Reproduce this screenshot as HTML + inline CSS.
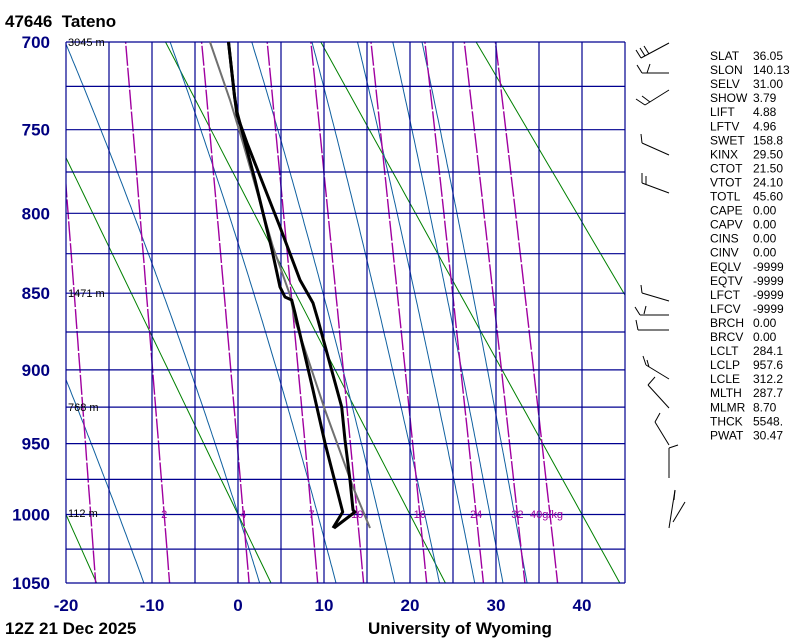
<!DOCTYPE html>
<html><head><meta charset="utf-8">
<style>
html,body{margin:0;padding:0;background:#fff;}
body{width:800px;height:640px;overflow:hidden;position:relative;font-family:"Liberation Sans",sans-serif;}
svg{position:absolute;left:0;top:0;}
</style></head>
<body>
<svg id="s" width="800" height="640" xmlns="http://www.w3.org/2000/svg"></svg>
<script>
(function(){
var K=0.286;
var s541=541/(Math.pow(1050,K)-Math.pow(700,K));
function Y(p){return 42+s541*(Math.pow(p,K)-Math.pow(700,K));}
function X(T){return 238+8.6*T;}
var L=66,R=625,T0=42,B=583;
var out=[];
out.push('<defs><clipPath id="c"><rect x="'+L+'" y="'+T0+'" width="'+(R-L)+'" height="'+(B-T0)+'"/></clipPath></defs>');
out.push('<rect width="800" height="640" fill="#fff"/>');
var g=[];
[253.15,273.15,293.15,313.15,333.15,353.15].forEach(function(th){
  var pts=[];
  for(var p=690;p<=1060;p+=10){var t=th*Math.pow(p/1000,K)-273.15;pts.push(X(t).toFixed(1)+','+Y(p).toFixed(1));}
  g.push('<polyline points="'+pts.join(' ')+'" fill="none" stroke="#008000" stroke-width="1"/>');
});
function dTdp(p,T){var es=6.112*Math.exp(17.67*(T-273.15)/(T-29.65));var rs=0.622*es/(p-es);var Lv=2.501e6,Rd=287.04,cp=1005.7;
 return (Rd*T+Lv*rs)/(p*(cp+Lv*Lv*rs*0.622/(Rd*T*T)));}
function moist(p0,t0){var T=t0+273.15,p,up=[],dn=[];
 var Tt=T;for(p=p0;p>=690;p-=2){up.push([p,Tt]);var k1=dTdp(p,Tt),k2=dTdp(p-1,Tt-k1);Tt-=2*k2;}
 Tt=T;for(p=p0;p<=1060;p+=2){dn.push([p,Tt]);var k1=dTdp(p,Tt),k2=dTdp(p+1,Tt+k1);Tt+=2*k2;}
 var all=up.reverse().concat(dn.slice(1));
 return all.map(function(a){return X(a[1]-273.15).toFixed(1)+','+Y(a[0]).toFixed(1);}).join(' ');}
[-20.1,-7.9,1.6,8.6,13.9,18.0,21.4].forEach(function(t){
  g.push('<polyline points="'+moist(700,t)+'" fill="none" stroke="#1060a0" stroke-width="1"/>');});
g.push('<polyline points="'+moist(1000,-13.9)+'" fill="none" stroke="#1060a0" stroke-width="1"/>');
function td(w,p){var e=w*p/(622+w);var a=Math.log(e/6.112);return 243.5*a/(17.67-a);}
var ws=[1,2,4,7,10,16,24,32,40];
ws.forEach(function(w){var pts=[];for(var p=690;p<=1060;p+=10){pts.push(X(td(w,p)).toFixed(1)+','+Y(p).toFixed(1));}
  g.push('<polyline points="'+pts.join(' ')+'" fill="none" stroke="#a000a0" stroke-width="1.4" stroke-dasharray="20 2"/>');});
out.push('<g clip-path="url(#c)">'+g.join('')+'</g>');
var gr=[];
for(var p=700;p<=1050;p+=25){var y=Y(p).toFixed(1);gr.push('<line x1="'+L+'" y1="'+y+'" x2="'+R+'" y2="'+y+'" stroke="#000090" stroke-width="1.2"/>');}
for(var t=-20;t<=45;t+=5){var x=X(t).toFixed(1);gr.push('<line x1="'+x+'" y1="'+T0+'" x2="'+x+'" y2="'+B+'" stroke="#000090" stroke-width="1.2"/>');}
out.push(gr.join(''));
var lab=[[2,'2'],[4,'4'],[7,'7'],[10,'10'],[16,'16'],[24,'24'],[32,'32']];
lab.forEach(function(a){out.push('<text x="'+X(td(a[0],1000)).toFixed(1)+'" y="518" font-size="11" fill="#a000a0" text-anchor="middle" font-family="Liberation Sans,sans-serif">'+a[1]+'</text>');});
out.push('<text x="530" y="518" font-size="11" fill="#a000a0" font-family="Liberation Sans,sans-serif">40g/kg</text>');
out.push('<polyline points="210,42 230,100 243,143 273,247 290,295 295,320 325,410 353,487 370,528" fill="none" stroke="#707070" stroke-width="2"/>');
out.push('<polyline points="228.5,42 234.5,96 237,115 247,143 280,227 300,280 313,303 318,320 341.7,407 345,440 350,480 353,510 355,512 334,528" fill="none" stroke="#000" stroke-width="3" stroke-linejoin="round"/>');
out.push('<polyline points="228.5,42 234.5,96 237,112 255,180 272,250 280,287 285,297 291.7,300 295,313 313,390 325,443 342.7,512 333,528" fill="none" stroke="#000" stroke-width="3" stroke-linejoin="round"/>');
[['3045 m',46],['1471 m',297],['768 m',411],['112 m',517]].forEach(function(a){out.push('<text x="68" y="'+a[1]+'" font-size="11" fill="#000" font-family="Liberation Sans,sans-serif">'+a[0]+'</text>');});
[700,750,800,850,900,950,1000,1050].forEach(function(p){out.push('<text x="50" y="'+(Y(p)+6).toFixed(1)+'" font-size="17" font-weight="bold" fill="#000080" text-anchor="end" font-family="Liberation Sans,sans-serif">'+p+'</text>');});
[-20,-10,0,10,20,30,40].forEach(function(t){out.push('<text x="'+X(t)+'" y="611" font-size="17" font-weight="bold" fill="#000080" text-anchor="middle" font-family="Liberation Sans,sans-serif">'+t+'</text>');});
out.push('<text x="5" y="27" font-size="17" font-weight="bold" fill="#000" font-family="Liberation Sans,sans-serif">47646&#160;&#160;Tateno</text>');
out.push('<text x="5" y="634" font-size="17" font-weight="bold" fill="#000" font-family="Liberation Sans,sans-serif">12Z 21 Dec 2025</text>');
out.push('<text x="368" y="634" font-size="17" font-weight="bold" fill="#000" font-family="Liberation Sans,sans-serif">University of Wyoming</text>');
var tb=[['SLAT','36.05'],['SLON','140.13'],['SELV','31.00'],['SHOW','3.79'],['LIFT','4.88'],['LFTV','4.96'],['SWET','158.8'],['KINX','29.50'],['CTOT','21.50'],['VTOT','24.10'],['TOTL','45.60'],['CAPE','0.00'],['CAPV','0.00'],['CINS','0.00'],['CINV','0.00'],['EQLV','-9999'],['EQTV','-9999'],['LFCT','-9999'],['LFCV','-9999'],['BRCH','0.00'],['BRCV','0.00'],['LCLT','284.1'],['LCLP','957.6'],['LCLE','312.2'],['MLTH','287.7'],['MLMR','8.70'],['THCK','5548.'],['PWAT','30.47']];
tb.forEach(function(a,i){var y=(60+14.05*i).toFixed(1);
 out.push('<text x="710" y="'+y+'" font-size="12" fill="#000" font-family="Liberation Sans,sans-serif">'+a[0]+'</text><text x="753" y="'+y+'" font-size="12" fill="#000" font-family="Liberation Sans,sans-serif">'+a[1]+'</text>');});
var bl=[
[669,43,641,58],[641,58,636,50],[645,56,640,48],[649,54,644,46],
[669,73,642,73],[642,73,637,65],[647,73,650,64],
[669,90,645,105],[645,105,636,99],[650,102,642,96],
[669,155,642,143],[642,143,641,134],
[669,193,642,183],[642,183,642,173],[646,185,646,176],
[669,301,642,293],[642,293,641,285],
[669,315,640,315],[640,315,635,307],[644,314,646,306],
[669,330,638,330],[638,330,636,320],
[669,379,646,365],[646,365,643,356],[649,367,647,360],
[669,408,648,385],[648,385,655,377],
[669,445,655,422],[655,422,660,413],
[669,448,669,478],[669,448,678,445],
[675,490,669,528],[675,490,674,500],[685,502,673,522]];
bl.forEach(function(a){out.push('<line x1="'+a[0]+'" y1="'+a[1]+'" x2="'+a[2]+'" y2="'+a[3]+'" stroke="#000" stroke-width="1"/>');});
document.getElementById('s').innerHTML=out.join('');
})();
</script>
</body></html>
